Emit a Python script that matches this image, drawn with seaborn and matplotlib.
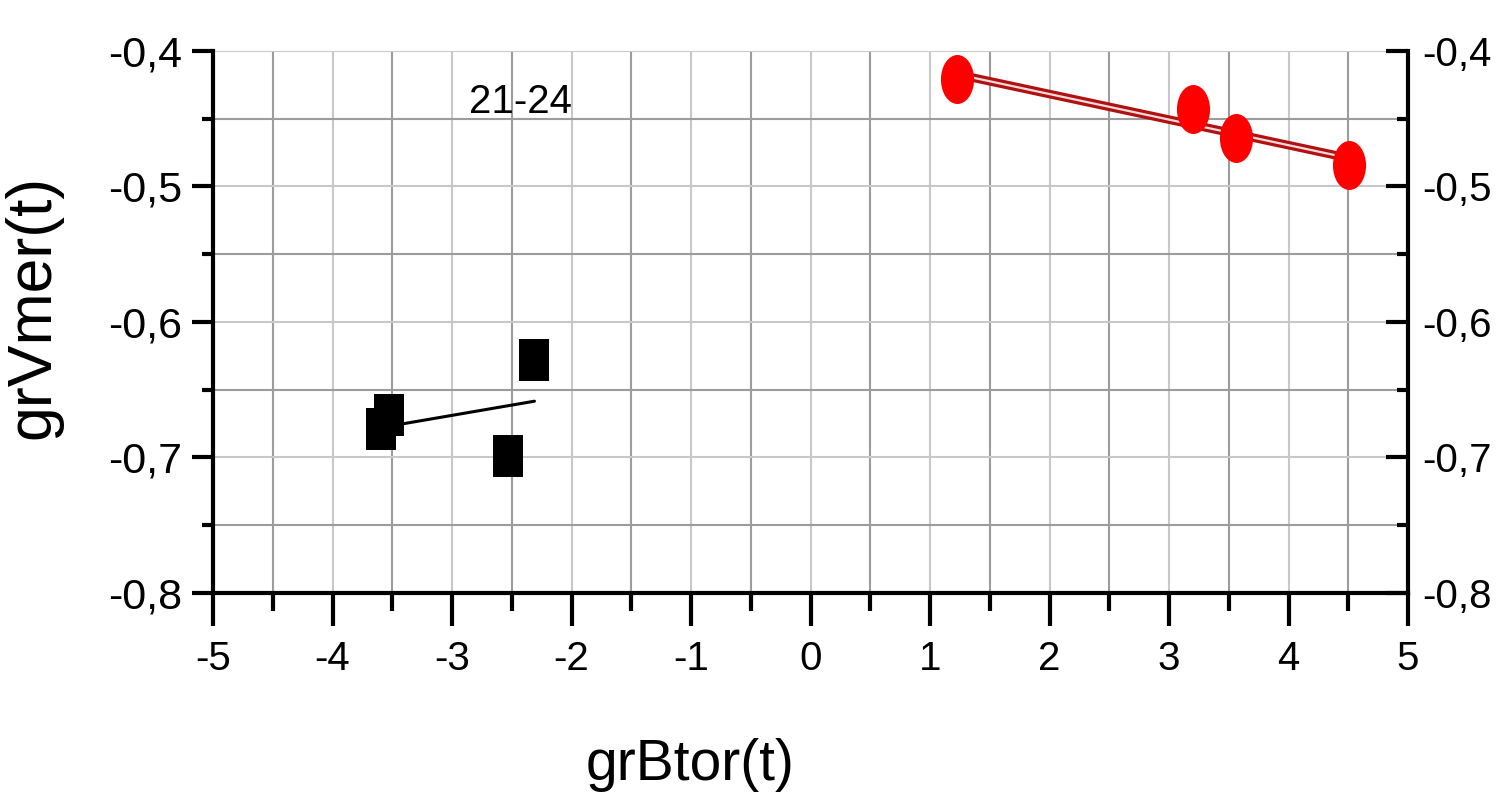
import numpy as np
import matplotlib
matplotlib.use("Agg")
import matplotlib.pyplot as plt
import matplotlib.patheffects as pe
from matplotlib.path import Path
from matplotlib.transforms import Affine2D
from matplotlib.ticker import MultipleLocator, FuncFormatter
import seaborn as sns

# Gradient pairs for the 21-24 interval
neg_btor = [-3.53, -3.59, -2.31, -2.53]
neg_vmer = [-0.669, -0.679, -0.628, -0.699]
pos_btor = [1.23, 3.20, 3.56, 4.51]
pos_vmer = [-0.421, -0.443, -0.464, -0.484]
period_label = "21-24"
x_label = "grBtor(t)"
y_label = "grVmer(t)"
x_range = (-5, 5)
y_range = (-0.8, -0.4)

sns.set_theme(style="white")
plt.rcParams["font.family"] = ["Liberation Sans", "DejaVu Sans"]
plt.rcParams["axes.unicode_minus"] = False
plt.rcParams["text.color"] = "black"
plt.rcParams["axes.labelcolor"] = "black"
plt.rcParams["xtick.color"] = "black"
plt.rcParams["ytick.color"] = "black"

fig = plt.figure(figsize=(14.97, 7.98), dpi=100)
ax = fig.add_axes([213 / 1497, 205 / 798, 1195 / 1497, 542 / 798])

# Tall marker shapes
rect_marker = Path([(-0.5, -0.7), (0.5, -0.7), (0.5, 0.7), (-0.5, 0.7), (-0.5, -0.7)],
                   [Path.MOVETO, Path.LINETO, Path.LINETO, Path.LINETO, Path.CLOSEPOLY])
oval_marker = Affine2D().scale(1.0, 1.48).transform_path(Path.unit_circle())

# Fitted lines
sns.regplot(x=neg_btor, y=neg_vmer, scatter=False, ci=None, ax=ax,
            line_kws=dict(color="black", lw=2.2, zorder=3))
sns.regplot(x=pos_btor, y=pos_vmer, scatter=False, ci=None, ax=ax,
            line_kws=dict(color="#f7dada", lw=1.6, zorder=3,
                          path_effects=[pe.Stroke(linewidth=6.2, foreground="#b01212"),
                                        pe.Normal()]))

# Points
sns.scatterplot(x=neg_btor, y=neg_vmer, ax=ax, marker=rect_marker, s=914,
                color="black", linewidth=0, zorder=4)
sns.scatterplot(x=pos_btor, y=pos_vmer, ax=ax, marker=oval_marker, s=1245,
                color="#ff0000", linewidth=0, zorder=4)

ax.text(-2.43, -0.4376, period_label, fontsize=29, ha="center", va="center")

ax.set_xlim(*x_range)
ax.set_ylim(*y_range)
ax.xaxis.set_major_locator(MultipleLocator(1))
ax.xaxis.set_minor_locator(MultipleLocator(0.5))
ax.yaxis.set_major_locator(MultipleLocator(0.1))
ax.yaxis.set_minor_locator(MultipleLocator(0.05))
comma_fmt = FuncFormatter(lambda v, p: f"{v:.1f}".replace(".", ","))
ax.yaxis.set_major_formatter(comma_fmt)
ax.xaxis.set_major_formatter(FuncFormatter(lambda v, p: f"{v:.0f}"))

ax.set_axisbelow(True)
ax.grid(which="major", color="#c8c8c8", lw=1.5)
ax.grid(which="minor", color="#9c9c9c", lw=1.5)

for side in ["left", "bottom"]:
    ax.spines[side].set_color("black")
    ax.spines[side].set_linewidth(3)
ax.spines["top"].set_visible(False)
ax.spines["right"].set_visible(False)

ax.tick_params(axis="x", which="major", direction="out", length=24, width=3,
               labelsize=29, pad=10, bottom=True)
ax.tick_params(axis="x", which="minor", direction="out", length=13, width=3, bottom=True)
ax.tick_params(axis="y", which="major", direction="out", length=15, width=3,
               labelsize=31, pad=7, left=True)
ax.tick_params(axis="y", which="minor", direction="out", length=8, width=3, left=True)

ax.set_xlabel(x_label, fontsize=41)
ax.xaxis.set_label_coords((690 - 213) / 1195, (593 - 738) / 542)
ax.set_ylabel(y_label, fontsize=45)
ax.yaxis.set_label_coords((62 - 213) / 1195, (593 - 307) / 542)

# Mirrored scale on the right
ax2 = ax.twinx()
ax2.set_ylim(*y_range)
ax2.yaxis.set_major_locator(MultipleLocator(0.1))
ax2.yaxis.set_minor_locator(MultipleLocator(0.05))
ax2.yaxis.set_major_formatter(comma_fmt)
ax2.grid(False)
for side in ["left", "top", "bottom"]:
    ax2.spines[side].set_visible(False)
ax2.spines["right"].set_color("black")
ax2.spines["right"].set_linewidth(3)
ax2.tick_params(axis="y", which="major", direction="in", length=16, width=3,
                labelsize=29, pad=10, right=True)
ax2.tick_params(axis="y", which="minor", direction="in", length=8, width=3, right=True)

fig.savefig("out.png", dpi=100, facecolor="white")
